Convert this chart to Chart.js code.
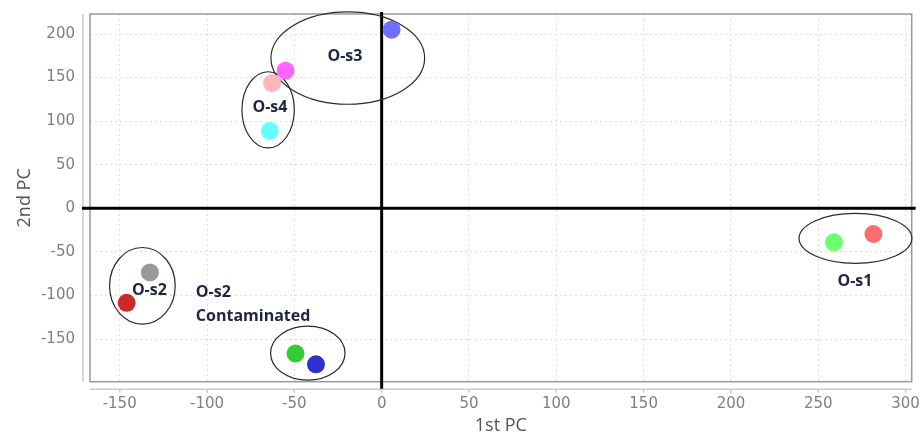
<!DOCTYPE html>
<html>
<head>
<meta charset="utf-8">
<script src="https://cdn.jsdelivr.net/npm/chart.js@4.4.1/dist/chart.umd.min.js"></script>
<style>
  html, body { margin: 0; padding: 0; background: #fff; }
  #wrap { width: 921px; height: 437px; position: relative; }
</style>
</head>
<body>
<div id="wrap"><canvas id="pca"></canvas></div>
<script>
'use strict';

// ── DATA ─────────────────────────────────────────────────────

const PC1 = [5.7, -55, -62.7, -64, -132.7, -146, -49.3, -37.6, 259, 281.6];
const PC2 = [205, 158, 143.7, 88.8, -73.6, -108.5, -166.7, -179, -39, -29.5];
const POINT_COLORS = ['#6e6eff', '#ff66ff', '#ffb6b6', '#66ffff', '#999999',
                      '#d02828', '#33cc33', '#3030d0', '#6eff6e', '#ff6e6e'];

// group ellipses: centre and half-axes in data units
const GROUP_CX = [-19.4, -65, -137, -42.3, 271.3];
const GROUP_CY = [172.4, 113, -89, -166.3, -34.5];
const GROUP_RX = [44, 15, 18.8, 21.3, 32.3];
const GROUP_RY = [53, 43.7, 44, 31, 28.7];

const LABEL_TEXT  = ['O-s3', 'O-s4', 'O-s2', 'O-s2', 'Contaminated', 'O-s1'];
const LABEL_X     = [-21, -64, -133, -106.4, -106.4, 271];
const LABEL_Y     = [174, 116, -94, -97, -124.6, -84];
const LABEL_ALIGN = ['center', 'center', 'center', 'left', 'left', 'center'];

const X_TICKS = [-150, -100, -50, 0, 50, 100, 150, 200, 250, 300];
const Y_TICKS = [-150, -100, -50, 0, 50, 100, 150, 200];

// ── STYLE ────────────────────────────────────────────────────

const TICK_FONT  = { family: 'DejaVu Sans', size: 15 };
const TICK_COLOR = '#7f7f7f';
const GRID_COLOR = '#dedede';
const TITLE_FONT = { family: 'Open Sans', size: 18 };

// ── DECORATION PLUGIN ────────────────────────────────────────

const decor = {
  id: 'decor',
  beforeDatasetsDraw(chart) {
    const { ctx, chartArea: a, scales: { x, y } } = chart;
    ctx.save();

    // frame round the plot
    ctx.strokeStyle = '#9a9a9a';
    ctx.lineWidth = 1.5;
    ctx.strokeRect(a.left, a.top, a.right - a.left, a.bottom - a.top);

    // offset axis lines
    ctx.strokeStyle = '#cacaca';
    ctx.beginPath();
    ctx.moveTo(a.left - 7, a.top);
    ctx.lineTo(a.left - 7, a.bottom);
    ctx.moveTo(a.left, a.bottom + 7.5);
    ctx.lineTo(a.right, a.bottom + 7.5);
    X_TICKS.forEach(v => {
      const px = x.getPixelForValue(v);
      ctx.moveTo(px, a.bottom + 7.5);
      ctx.lineTo(px, a.bottom + 11);
    });
    ctx.stroke();

    // zero lines
    const x0 = x.getPixelForValue(0);
    const y0 = y.getPixelForValue(0);
    ctx.strokeStyle = '#000';
    ctx.lineWidth = 3;
    ctx.beginPath();
    ctx.moveTo(a.left - 8, y0);
    ctx.lineTo(a.right + 4, y0);
    ctx.moveTo(x0, a.top - 2);
    ctx.lineTo(x0, a.bottom + 7);
    ctx.stroke();

    // group ellipses
    ctx.strokeStyle = '#2a2a2a';
    ctx.lineWidth = 1.2;
    GROUP_CX.forEach((cx, i) => {
      const px = x.getPixelForValue(cx);
      const py = y.getPixelForValue(GROUP_CY[i]);
      const rx = Math.abs(x.getPixelForValue(cx + GROUP_RX[i]) - px);
      const ry = Math.abs(y.getPixelForValue(GROUP_CY[i] + GROUP_RY[i]) - py);
      ctx.beginPath();
      ctx.ellipse(px, py, rx, ry, 0, 0, Math.PI * 2);
      ctx.stroke();
    });
    ctx.restore();
  },
  afterDatasetsDraw(chart) {
    const { ctx, scales: { x, y } } = chart;
    ctx.save();
    ctx.font = 'bold 16px "Open Sans"';
    ctx.fillStyle = '#1c2541';
    ctx.textBaseline = 'middle';
    LABEL_TEXT.forEach((t, i) => {
      ctx.textAlign = LABEL_ALIGN[i];
      ctx.fillText(t, x.getPixelForValue(LABEL_X[i]), y.getPixelForValue(LABEL_Y[i]));
    });
    ctx.restore();
  },
};

// ── CHART ────────────────────────────────────────────────────

new Chart(document.getElementById('pca'), {
  type: 'scatter',
  data: {
    datasets: [{
      data: PC1.map((v, i) => ({ x: v, y: PC2[i] })),
      pointBackgroundColor: POINT_COLORS,
      pointBorderWidth: 0,
      pointRadius: 9,
      pointHoverRadius: 9,
    }],
  },
  options: {
    responsive: true,
    maintainAspectRatio: false,
    animation: false,
    layout: { padding: { top: 14, right: 9.3, left: 0, bottom: 0 } },
    plugins: { legend: { display: false }, tooltip: { enabled: false } },
    scales: {
      x: {
        type: 'linear',
        min: -167,
        max: 303.5,
        afterBuildTicks: s => { s.ticks = X_TICKS.map(v => ({ value: v })); },
        afterFit: s => { s.height = 55.3; s.paddingLeft = 0; s.paddingRight = 0; },
        grid: { color: GRID_COLOR, drawTicks: false },
        border: { display: false, dash: [2, 3] },
        ticks: { font: TICK_FONT, color: TICK_COLOR, padding: 13, maxRotation: 0 },
        title: { display: true, text: '1st PC', font: TITLE_FONT, color: '#555', padding: { top: 0, bottom: 0 } },
      },
      y: {
        type: 'linear',
        min: -199,
        max: 223,
        afterBuildTicks: s => { s.ticks = Y_TICKS.map(v => ({ value: v })); },
        afterFit: s => { s.width = 90; s.paddingTop = 0; s.paddingBottom = 0; },
        grid: { color: GRID_COLOR, drawTicks: false },
        border: { display: false, dash: [2, 3] },
        ticks: { font: TICK_FONT, color: TICK_COLOR, padding: 15 },
        title: { display: true, text: '2nd PC', font: TITLE_FONT, color: '#555', padding: { top: 14, bottom: 0 } },
      },
    },
  },
  plugins: [decor],
});
</script>
</body>
</html>
